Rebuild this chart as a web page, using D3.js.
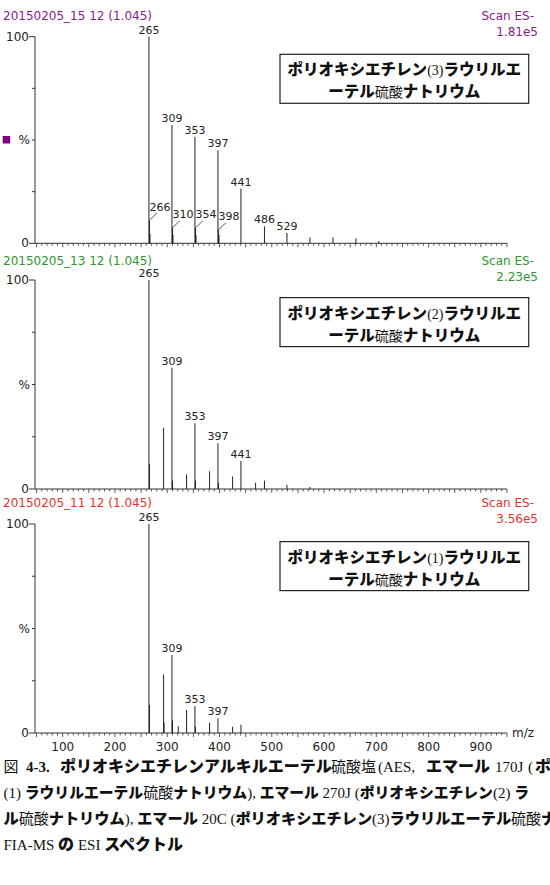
<!DOCTYPE html>
<html><head><meta charset="utf-8">
<script src="https://cdn.jsdelivr.net/npm/d3@7"></script>
<style>
body{margin:0;background:#fff;}
svg{display:block;}
.k{font-family:"Noto Sans CJK JP";font-weight:900;}
.j{font-family:"Noto Sans CJK JP";font-weight:400;}
.s{font-family:"Liberation Serif","DejaVu Serif",serif;font-weight:400;}
.b{font-family:"Liberation Serif","DejaVu Serif",serif;font-weight:700;}
</style></head>
<body><svg id="c" width="550" height="885"></svg>
<script>
// ---------- data ----------
const xTicksMajor = [100,200,300,400,500,600,700,800,900];
const yTickValues = [0,25,50,75,100];

const titles = ["20150205_15 12 (1.045)","20150205_13 12 (1.045)","20150205_11 12 (1.045)"];
const scanText = ["Scan ES-","Scan ES-","Scan ES-"];
const maxText = ["1.81e5","2.23e5","3.56e5"];
const panelColors = ["#8b1a8b","#2e962e","#e8312b"];
const boxNumbers = ["(3)","(2)","(1)"];

// panel 1 (top)
const mz1  = [265,266,267,309,310,311,353,354,355,397,398,399,441,486,529,573,617,661,705];
const int1 = [100,11,4.5,57.2,7.3,4,51.5,7.3,4,45,6.3,4,26.5,8.2,5,2.8,2.8,2.4,1.1];
const labels1 = [265,309,353,397,441,486,529];
const leaderLabels1 = [266,310,354,398];

// panel 2 (middle)
const mz2  = [265,266,293,309,310,337,353,354,381,397,398,425,441,469,486,529,573];
const int2 = [100,12,29.3,58,4,7,31.4,4,8.5,21.9,3,6,13.4,3,4,2,1];
const labels2 = [265,309,353,397,441];

// panel 3 (bottom)
const mz3  = [265,266,293,294,309,310,321,337,353,354,381,397,425,441];
const int3 = [100,13.4,28,5,37.3,6,3.3,11,12.9,3,5,7,3,4];
const labels3 = [265,309,353,397];

// ---------- layout ----------
const svg = d3.select("#c");
const x = d3.scaleLinear().domain([47,950]).range([35,507]);
const panels = [
  {top:36.7, bottom:243.3, titleY:20, mz:mz1, it:int1, labels:labels1, leaders:leaderLabels1, square:true},
  {top:280, bottom:489, titleY:265, mz:mz2, it:int2, labels:labels2, leaders:[], square:false},
  {top:524, bottom:733, titleY:507, mz:mz3, it:int3, labels:labels3, leaders:[], square:false}
];
const font = "DejaVu Sans";

panels.forEach((p,i)=>{
  const y = d3.scaleLinear().domain([0,100]).range([p.bottom,p.top]);
  const g = svg.append("g");
  // header
  g.append("text").attr("x",3).attr("y",p.titleY).attr("font-family",font).attr("font-size",12)
    .attr("fill",panelColors[i]).text(titles[i]);
  g.append("text").attr("x",534).attr("y",p.titleY).attr("text-anchor","end").attr("font-family",font)
    .attr("font-size",12).attr("fill",panelColors[i]).text(scanText[i]);
  g.append("text").attr("x",538).attr("y",p.titleY+16).attr("text-anchor","end").attr("font-family",font)
    .attr("font-size",12).attr("fill",panelColors[i]).text(maxText[i]);

  // y axis
  g.append("line").attr("x1",35).attr("x2",35).attr("y1",y(100)).attr("y2",y(0)).attr("stroke","#333");
  yTickValues.forEach(v=>{
    const len = (v===0||v===100)?6:3;
    g.append("line").attr("x1",35-len).attr("x2",35).attr("y1",y(v)).attr("y2",y(v)).attr("stroke","#333");
  });
  g.append("text").attr("x",29).attr("y",y(100)+4).attr("text-anchor","end").attr("font-family",font).attr("font-size",12).attr("fill","#222").text("100");
  g.append("text").attr("x",29).attr("y",y(0)+4).attr("text-anchor","end").attr("font-family",font).attr("font-size",12).attr("fill","#222").text("0");
  g.append("text").attr("x",30).attr("y",y(50)+4).attr("text-anchor","end").attr("font-family",font).attr("font-size",12).attr("fill","#222").text("%");
  if(p.square){
    g.append("rect").attr("x",2.7).attr("y",y(50)-4).attr("width",7.5).attr("height",7.5).attr("fill","#800080");
  }

  // x axis
  g.append("line").attr("x1",x(47)).attr("x2",x(950)).attr("y1",y(0)).attr("y2",y(0)).attr("stroke","#333");
  const minor = d3.range(50,951,10);
  g.selectAll("line.xt").data(minor).enter().append("line")
    .attr("x1",d=>x(d)).attr("x2",d=>x(d)).attr("y1",y(0))
    .attr("y2",d=>y(0)+(d%50===0?4:2.5)).attr("stroke","#333").attr("stroke-width",0.8);

  // peaks
  g.selectAll("line.pk").data(p.mz.map((m,k)=>({m,v:p.it[k]}))).enter().append("line")
    .attr("x1",d=>x(d.m)).attr("x2",d=>x(d.m)).attr("y1",y(0)).attr("y2",d=>y(d.v))
    .attr("stroke","#222").attr("stroke-width",1);

  // labels
  p.labels.forEach(m=>{
    const v = p.it[p.mz.indexOf(m)];
    g.append("text").attr("x",x(m)).attr("y",y(v)-3).attr("text-anchor","middle")
      .attr("font-family",font).attr("font-size",11).attr("fill","#222").text(m);
  });
  p.leaders.forEach(m=>{
    const v = p.it[p.mz.indexOf(m)];
    const px = x(m-1), py = y(v);
    g.append("line").attr("x1",px).attr("y1",py).attr("x2",px+8).attr("y2",py-7.5).attr("stroke","#333").attr("stroke-width",0.8);
    g.append("text").attr("x",px+11).attr("y",py-10).attr("text-anchor","middle")
      .attr("font-family",font).attr("font-size",11).attr("fill","#222").text(m);
  });

  // boxed compound name
  const bt = p.top+17.6, bb = p.top+66.6;
  g.append("rect").attr("x",280).attr("y",bt).attr("width",248.7).attr("height",bb-bt)
    .attr("fill","#fff").attr("stroke","#222").attr("stroke-width",1.2);
  const t1 = g.append("text").attr("x",404.3).attr("y",bt+21).attr("text-anchor","middle").attr("font-size",15.5).attr("fill","#111");
  t1.append("tspan").attr("class","k").text("ポリオキシエチレン");
  t1.append("tspan").attr("class","s").attr("font-size",14).text(boxNumbers[i]);
  t1.append("tspan").attr("class","k").text("ラウリルエ");
  const t2 = g.append("text").attr("x",404.3).attr("y",bt+43).attr("text-anchor","middle").attr("font-size",15.5).attr("fill","#111");
  t2.append("tspan").attr("class","k").text("ーテル");
  t2.append("tspan").attr("class","j").attr("font-size",14).text("硫酸");
  t2.append("tspan").attr("class","k").text("ナトリウム");
});

// bottom axis labels
const yb = panels[2].bottom;
svg.selectAll("text.xl").data(xTicksMajor).enter().append("text")
  .attr("x",d=>x(d)).attr("y",yb+18).attr("text-anchor","middle")
  .attr("font-family",font).attr("font-size",12).attr("fill","#222").text(d=>d);
svg.append("text").attr("x",512).attr("y",yb+4).attr("font-family",font).attr("font-size",12).attr("fill","#222").text("m/z");

// caption: [class, text, x (optional)]
const captionLines = [
  [["j","図",3.5],["b","4-3.",26],["k","ポリオキシエチレンアルキルエーテル",60],["j","硫酸塩",331],["s","(AES,",378],["k","エマール",426],["s","170J",495],["s","(",528],["k","ポリオ",535]],
  [["s","(1) ",3.5],["k","ラウリルエーテル"],["j","硫酸"],["k","ナトリウム"],["s","), "],["k","エマール"],["s"," 270J ("],["k","ポリオキシエチレン"],["s","(2) "],["k","ラ"]],
  [["k","ル",3.5],["j","硫酸"],["k","ナトリウム"],["s","), "],["k","エマール"],["s"," 20C ("],["k","ポリオキシエチレン"],["s","(3)"],["k","ラウリルエーテル"],["j","硫酸"],["k","ナ"]],
  [["s","FIA-MS ",3.5],["k","の"],["s"," ESI "],["k","スペクトル"]]
];
const capY = [772, 798, 824, 850];
const kSize = [16, 14.8, 15.2, 16];
captionLines.forEach((segs,li)=>{
  const t = svg.append("text").attr("y",capY[li]).attr("font-size",15).attr("fill","#111");
  segs.forEach(([c,s,xx])=>{
    const ts = t.append("tspan").attr("class",c).attr("font-size",c==="k"?kSize[li]:15).text(s);
    if(xx!==undefined) ts.attr("x",xx);
  });
});
</script></body></html>
